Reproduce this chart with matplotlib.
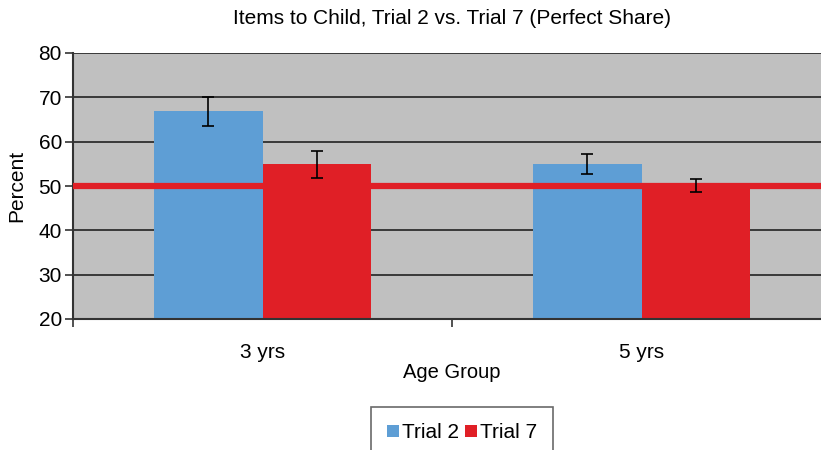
import matplotlib
matplotlib.use("Agg")
import matplotlib.pyplot as plt
import numpy as np

plt.rcParams['font.family'] = ['Liberation Sans', 'DejaVu Sans']

categories = ["3 yrs", "5 yrs"]
series_names = ["Trial 2", "Trial 7"]
trial2 = [66.9, 55.0]
trial7 = [55.0, 50.6]
trial2_err_low = [3.4, 2.3]
trial2_err_high = [3.2, 2.2]
trial7_err_low = [3.2, 1.9]
trial7_err_high = [3.0, 1.0]
chance_level = 50

fig = plt.figure(figsize=(8.21, 4.5), dpi=100)
ax = fig.add_axes([73/821, 131/450, 758/821, 266/450])
ax.set_facecolor('#C0C0C0')

x = np.arange(len(categories))
w = 0.285
blue = '#5E9ED5'
red = '#E01F26'
ax.bar(x - w/2, trial2, w, color=blue, zorder=2, label=series_names[0])
ax.bar(x + w/2, trial7, w, color=red, zorder=2, label=series_names[1])
ax.axhline(chance_level, color=red, lw=4.5, zorder=3)
ax.errorbar(x - w/2, trial2, yerr=[trial2_err_low, trial2_err_high], fmt='none',
            ecolor='black', elinewidth=1.2, capsize=4, capthick=1.2, zorder=4)
ax.errorbar(x + w/2, trial7, yerr=[trial7_err_low, trial7_err_high], fmt='none',
            ecolor='black', elinewidth=1.2, capsize=4, capthick=1.2, zorder=4)

ax.set_ylim(20, 80)
ax.set_xlim(-0.5, 1.5)
ax.set_yticks(range(20, 81, 10))
ax.yaxis.grid(True, color='#222222', lw=1.2, zorder=1)
ax.set_axisbelow(True)
ax.set_xticks([-0.5, 0.5, 1.5])
ax.set_xticklabels([])
ax.set_xticks(x, minor=True)
ax.set_xticklabels(categories, minor=True, fontsize=15)
ax.tick_params(axis='x', which='minor', length=0, pad=17)
ax.tick_params(axis='x', which='major', length=6, width=1.2, color='#333333')
ax.tick_params(axis='y', length=6, width=1.2, color='#333333', labelsize=15, pad=2)
for s in ['top', 'right']:
    ax.spines[s].set_visible(False)
for s in ['left', 'bottom']:
    ax.spines[s].set_color('#333333')
    ax.spines[s].set_linewidth(1.5)

ax.set_ylabel("Percent", fontsize=15, labelpad=9)
ax.set_xlabel("Age Group", fontsize=14.5, labelpad=1)
fig.text(452/821, 1 - 18/450, "Items to Child, Trial 2 vs. Trial 7 (Perfect Share)",
         ha='center', va='center', fontsize=15)

leg = fig.legend(loc='center', bbox_to_anchor=(462/821, 1 - 433/450), ncol=2,
                 frameon=True, fancybox=False, edgecolor='#444444', fontsize=15,
                 handlelength=0.55, handleheight=0.55, handletextpad=0.15,
                 columnspacing=0.3, borderpad=0.8)
leg.get_frame().set_linewidth(1.2)

fig.savefig("out.png", dpi=100)
